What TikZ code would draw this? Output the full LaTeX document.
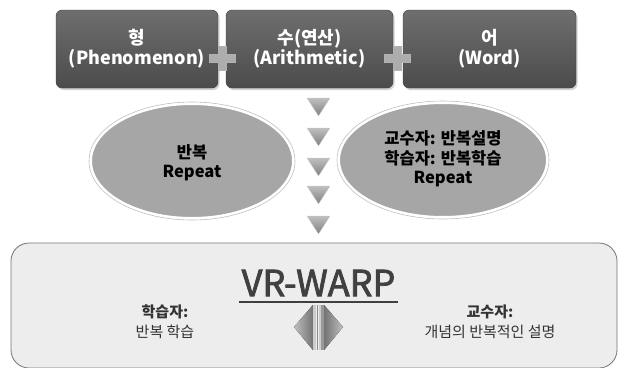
\documentclass[tikz,border=0pt]{standalone}
\usepackage{fontspec}
\setmainfont{Noto Sans CJK KR}
\newfontfamily\vrfont[FakeBold=2.2]{Noto Sans CJK KR}
\usetikzlibrary{shadows,shapes.geometric}
\definecolor{boxdark}{HTML}{595959}
\definecolor{boxdarktop}{HTML}{6E6E6E}
\definecolor{ellgray}{HTML}{A6A6A6}
\definecolor{plusgray}{HTML}{ADADAD}
\definecolor{bottomfill}{HTML}{EDEDED}
\definecolor{textdark}{HTML}{404040}
\tikzset{
  topbox/.style={rounded corners=6pt, top color=boxdarktop, bottom color=boxdark!85!black, draw=boxdark!70!black, line width=0.4pt,
    drop shadow={shadow xshift=1.5pt, shadow yshift=-2pt, fill=black!35}},
  toptext/.style={text=white, font=\bfseries\fontsize{18}{20}\selectfont, align=center},
  ellbox/.style={ellipse, fill=ellgray, draw=white, line width=2pt},
  ellouter/.style={ellipse, draw=black!25, line width=0.6pt},
  elltext/.style={font=\bfseries\fontsize{16.5}{19}\selectfont, align=center, text=black},
  downtri/.style={top color=black!25, bottom color=black!50, draw=black!20, line width=0.4pt},
  plussign/.style={fill=plusgray, draw=black!30, line width=0.3pt},
  bottomtext/.style={font=\fontsize{15}{20}\selectfont, align=center, text=black!80},
}
\begin{document}
\begin{tikzpicture}[x=1pt, y=-1pt]
\useasboundingbox (0,0) rectangle (632,367);
% top boxes
\draw[topbox] (56,10) rectangle (218,88);
\draw[topbox] (226,10) rectangle (393,88);
\draw[topbox] (403,10) rectangle (576,88);
\node[toptext] (b1) at (137,49) {형\\(Phenomenon)};
\node[toptext] (b2) at (309.5,49) {수(연산)\\(Arithmetic)};
\node[toptext] (b3) at (489.5,49) {어\\(Word)};
% plus signs
\foreach \px/\nm in {222/p1, 397/p2}{
  \draw[plussign] (\px-4,46) -- (\px+4,46) -- (\px+4,54) -- (\px+13,54) -- (\px+13,62) -- (\px+4,62) -- (\px+4,70) -- (\px-4,70) -- (\px-4,62) -- (\px-13,62) -- (\px-13,54) -- (\px-4,54) -- cycle;
}
% ellipses
\node[ellouter, minimum width=206pt, minimum height=118pt] (e1o) at (192,161) {};
\node[ellbox, minimum width=202pt, minimum height=114pt] (e1) at (192,161) {};
\node[elltext] (t1) at (192,163) {반복\\Repeat};
\node[ellouter, minimum width=212pt, minimum height=118pt] (e2o) at (443,160) {};
\node[ellbox, minimum width=208pt, minimum height=114pt] (e2) at (443,160) {};
\node[elltext, font=\bfseries\fontsize{16.5}{19.5}\selectfont] (t2) at (443,159) {교수자: 반복설명\\학습자: 반복학습\\Repeat};
% down triangles
\foreach \ty in {98,128,158,186,216}{
  \draw[downtri] (307,\ty) -- (330,\ty) -- (318.5,\ty+18) -- cycle;
}
% bottom box
\draw[rounded corners=18pt, fill=bottomfill, draw=black!55, line width=0.8pt] (11,243) rectangle (617,368);
\node[text=textdark, font=\vrfont\fontsize{36}{40}\selectfont, inner sep=0pt] (vr) at (318.5,283) {VR-WARP};
\draw[textdark, line width=1.2pt] (239,302) -- (398,302);
\node[bottomtext] (lt) at (165,322) {\textbf{학습자:}\\반복 학습};
\node[bottomtext] (rt) at (490,322) {\textbf{교수자:}\\개념의 반복적인 설명};
% double diamond arrow
\fill[left color=black!25, right color=black!55] (294,327) -- (313,305) -- (313,350) -- cycle;
\fill[left color=black!55, right color=black!25] (343,327) -- (324,305) -- (324,350) -- cycle;
\fill[black!20] (313,305) rectangle (316,350);
\fill[black!45] (316.5,305) rectangle (318,350);
\fill[black!20] (318.5,305) rectangle (321,350);
\fill[black!40] (321,305) rectangle (324,350);
\end{tikzpicture}
\end{document}
